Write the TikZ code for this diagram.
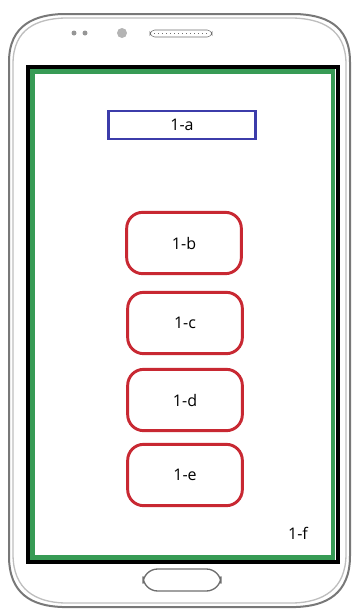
\documentclass[tikz,border=0pt]{standalone}
\usepackage{fontspec}
\setmainfont{Open Sans}
\begin{document}
\begin{tikzpicture}[x=0.75pt,y=0.75pt,yscale=-1,xscale=1,
	redbox/.style={draw={rgb, 255:red, 200; green, 40; blue, 50 },line width=2.2,rounded corners=12,minimum width=86pt,minimum height=46pt,inner sep=0.75pt,font=\fontsize{12}{14}\selectfont},
	bluebox/.style={draw={rgb, 255:red, 60; green, 60; blue, 170 },line width=2.2,minimum width=110pt,minimum height=21pt,inner sep=0.75pt,font=\fontsize{12}{14}\selectfont}]
	\useasboundingbox (0,0) rectangle (358,611);
	
	%Phone body
	\draw [color={rgb, 255:red, 120; green, 120; blue, 120 },line width=1.5]  (9,62) .. controls (9,24) and (36,15) .. (62,14) -- (296,14) .. controls (324,15) and (350,24) .. (350,62) -- (350,556) .. controls (350,594) and (326,606) .. (296,607) -- (62,607) .. controls (32,606) and (9,594) .. (9,556) -- cycle ;
	\draw [color={rgb, 255:red, 190; green, 190; blue, 190 },line width=1]  (13,64) .. controls (13,28) and (38,19) .. (64,18) -- (294,18) .. controls (320,19) and (346,28) .. (346,64) -- (346,554) .. controls (346,590) and (322,602) .. (294,603) -- (64,603) .. controls (36,602) and (13,590) .. (13,554) -- cycle ;
	
	%Sensors and speaker
	\fill [color={rgb, 255:red, 150; green, 150; blue, 150 }] (74,33) circle (2.5) ;
	\fill [color={rgb, 255:red, 150; green, 150; blue, 150 }] (85,33) circle (2.5) ;
	\fill [color={rgb, 255:red, 180; green, 180; blue, 180 }] (122,33) circle (5) ;
	\draw [color={rgb, 255:red, 110; green, 110; blue, 110 },rounded corners=3.5] (150,30) rectangle (212,37) ;
	\draw [color={rgb, 255:red, 110; green, 110; blue, 110 },dotted,line width=1] (154,33.5) -- (208,33.5) ;
	
	%Screen
	\draw [line width=2.5]  (28,67) rectangle (338,562) ;
	\draw [color={rgb, 255:red, 55; green, 155; blue, 85 },line width=3.5]  (32.5,71.5) rectangle (333,557.5) ;
	
	%Home button
	\draw [color={rgb, 255:red, 110; green, 110; blue, 110 },line width=1,rounded corners=11] (143,569) rectangle (221,591) ;
	
	% Text Node
	\node [bluebox] (a) at (182,125) {1-a};
	% Text Node
	\node [redbox] (b) at (184,243) {1-b};
	% Text Node
	\node [redbox] (c) at (185,323) {1-c};
	% Text Node
	\node [redbox] (d) at (185,400) {1-d};
	% Text Node
	\node [redbox] (e) at (185,475) {1-e};
	% Text Node
	\node [inner sep=0.75pt,font=\fontsize{12}{14}\selectfont] (f) at (298,533) {1-f};
\end{tikzpicture}
\end{document}
